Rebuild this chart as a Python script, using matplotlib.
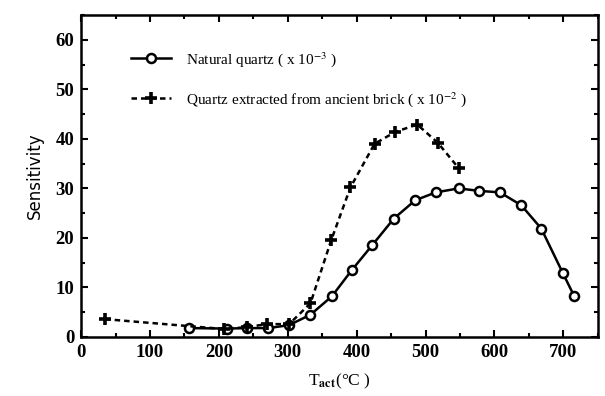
import matplotlib
matplotlib.use("Agg")
import matplotlib.pyplot as plt
from matplotlib.ticker import MultipleLocator

# natural quartz (x 10^-3)
nat_t = [157, 212, 241, 272, 302, 333, 364, 393, 423, 454, 485, 515, 548, 578, 608, 639, 668, 699, 716]
nat_s = [1.8, 1.7, 1.8, 1.8, 2.4, 4.5, 8.2, 13.5, 18.6, 23.9, 27.6, 29.2, 30.0, 29.5, 29.2, 26.6, 21.9, 13.0, 8.2]

# quartz from ancient brick (x 10^-2)
brick_t = [35, 208, 241, 270, 302, 333, 363, 391, 426, 456, 488, 518, 548]
brick_s = [3.6, 1.6, 2.0, 2.6, 2.6, 6.8, 19.5, 30.2, 39.0, 41.4, 42.9, 39.2, 34.1]

nat_label = r"Natural quartz ( x 10$^{-3}$ )"
brick_label = r"Quartz extracted from ancient brick ( x 10$^{-2}$ )"

plt.rcParams['font.family'] = ['Liberation Serif', 'DejaVu Serif']
plt.rcParams['mathtext.fontset'] = 'stix'

fig = plt.figure(figsize=(6.05, 3.96), dpi=100)
ax = fig.add_axes([0.134, 0.149, 0.854, 0.813])

ax.plot(nat_t, nat_s, '-', color='black', lw=1.8, marker='o', ms=6.5,
        mfc='white', mec='black', mew=1.8, label=nat_label, zorder=3)
ax.plot(brick_t, brick_s, '--', color='black', lw=1.8, marker='+', ms=9,
        mew=2.6, dashes=(2.2, 1.6), label=brick_label, zorder=4)

ax.set_xlim(0, 750)
ax.set_ylim(0, 65)
ax.xaxis.set_major_locator(MultipleLocator(100))
ax.xaxis.set_minor_locator(MultipleLocator(50))
ax.yaxis.set_major_locator(MultipleLocator(10))
ax.yaxis.set_minor_locator(MultipleLocator(5))
ax.tick_params(which='both', direction='in', top=True, right=True, width=1.5)
ax.tick_params(which='major', length=5, labelsize=13.5, pad=5)
ax.tick_params(which='minor', length=3)
for lab in ax.get_xticklabels() + ax.get_yticklabels():
    lab.set_fontweight('bold')
for sp in ax.spines.values():
    sp.set_linewidth(1.8)

ax.set_xlabel(r"T$_{\mathbf{act}}$(°C )", fontsize=12.5, labelpad=8)
ax.set_ylabel("Sensitivity", fontsize=12, family=['DejaVu Sans'], labelpad=8)

leg = ax.legend(loc='upper left', bbox_to_anchor=(0.07, 0.935), frameon=False,
                fontsize=11, handlelength=2.6, labelspacing=1.4, handletextpad=1.0)

fig.savefig("out.png", dpi=100)
